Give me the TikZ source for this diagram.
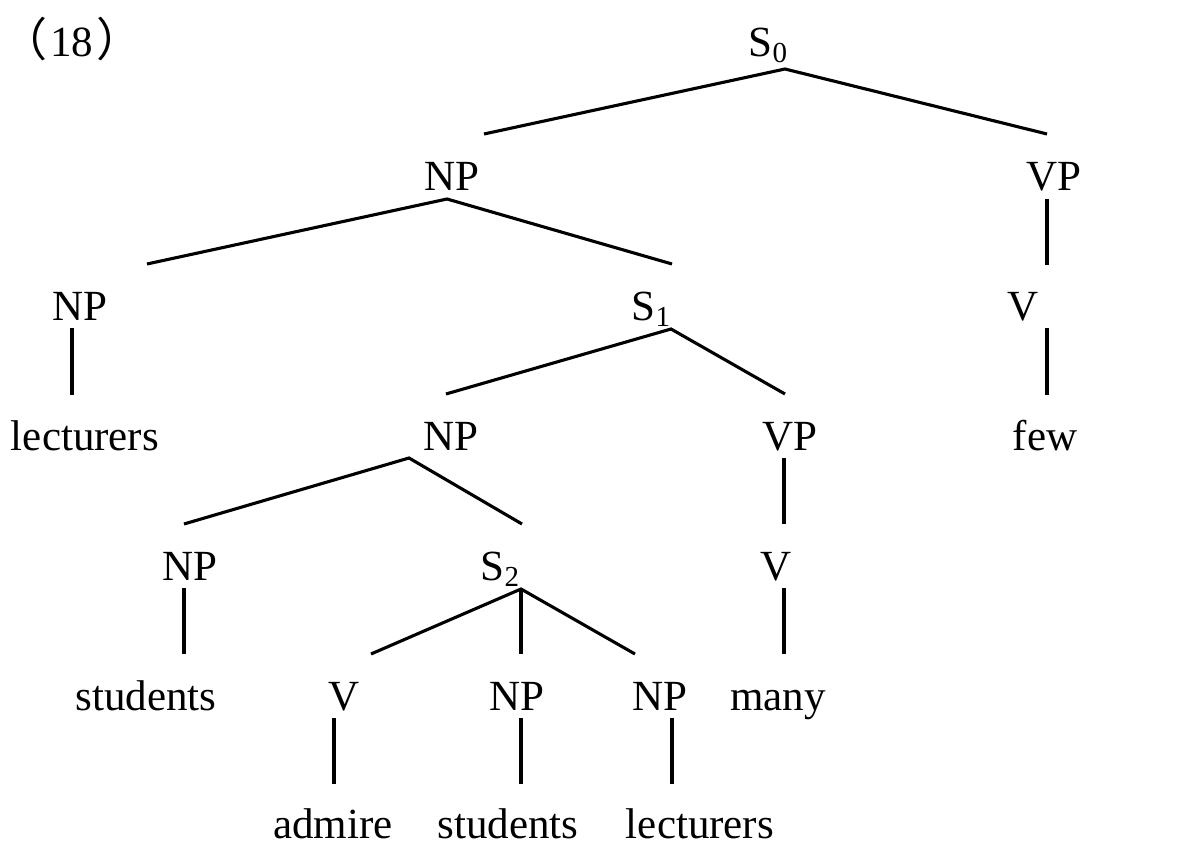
\documentclass[tikz,border=0pt]{standalone}
\usepackage{fontspec}
\setmainfont{Liberation Serif}
\newfontfamily\cjk{Noto Sans CJK SC}
\newcommand{\subidx}[1]{\raisebox{-6pt}{\fontsize{29}{29}\selectfont #1}}
\begin{document}
\begin{tikzpicture}[x=1pt,y=-1pt,
  lbl/.style={font=\fontsize{43}{50}\selectfont, anchor=base, inner sep=0pt},
  edge/.style={line width=3.1pt, line cap=butt, line join=miter}]
\useasboundingbox (0,0) rectangle (1197,861);
% labels
\node[lbl] (num) at (72,57) {{\cjk\fontsize{46}{50}\selectfont （}\hspace{3pt}18\hspace{3pt}{\cjk\fontsize{46}{50}\selectfont ）}};
\node[lbl] (s0) at (768,57) {S\subidx{0}};
\node[lbl] (np1) at (452,191) {NP};
\node[lbl] (vp1) at (1054,191) {VP};
\node[lbl] (np2) at (80,320) {NP};
\node[lbl] (s1) at (651,320) {S\subidx{1}};
\node[lbl] (v2) at (1023,320) {V};
\node[lbl] (lect1) at (85,450) {lecturers};
\node[lbl] (np3) at (451,450) {NP};
\node[lbl] (vp3) at (790,450) {VP};
\node[lbl] (few) at (1045,450) {few};
\node[lbl] (np4) at (190,580) {NP};
\node[lbl] (s2) at (500,580) {S\subidx{2}};
\node[lbl] (v4) at (776,580) {V};
\node[lbl] (stud1) at (146,710) {students};
\node[lbl] (v5) at (344,710) {V};
\node[lbl] (np5a) at (517,710) {NP};
\node[lbl] (np5b) at (660,710) {NP};
\node[lbl] (many) at (778,710) {many};
\node[lbl] (admire) at (333,838) {admire};
\node[lbl] (stud2) at (508,838) {students};
\node[lbl] (lect2) at (700,838) {lecturers};
% connector ends
\coordinate (s0b) at (785,69);
\coordinate (np1t) at (484,134);
\coordinate (vp1t) at (1047,134);
\coordinate (np1b) at (447,199);
\coordinate (np2t) at (147,264);
\coordinate (s1t) at (672,264);
\coordinate (vp1b) at (1047,199);
\coordinate (v2t) at (1047,265);
\coordinate (np2b) at (72,328);
\coordinate (lect1t) at (72,395);
\coordinate (s1b) at (671,329);
\coordinate (np3t) at (446,394);
\coordinate (vp3t) at (785,394);
\coordinate (v2b) at (1047,328);
\coordinate (fewt) at (1047,395);
\coordinate (np3b) at (409,458);
\coordinate (np4t) at (184,524);
\coordinate (s2t) at (522,524);
\coordinate (vp3b) at (784,458);
\coordinate (v4t) at (784,524);
\coordinate (np4b) at (184,588);
\coordinate (stud1t) at (184,654);
\coordinate (s2b) at (521,589);
\coordinate (v5t) at (371,654);
\coordinate (np5at) at (521,654);
\coordinate (np5bt) at (635,654);
\coordinate (v4b) at (784,588);
\coordinate (manyt) at (784,654);
\coordinate (v5b) at (334,718);
\coordinate (admiret) at (334,784);
\coordinate (np5ab) at (521,718);
\coordinate (stud2t) at (521,784);
\coordinate (np5bb) at (672,718);
\coordinate (lect2t) at (672,784);
% connectors
\draw[edge] (np1t) -- (s0b) -- (vp1t);
\draw[edge] (np2t) -- (np1b) -- (s1t);
\draw[edge] (vp1b) -- (v2t);
\draw[edge] (np2b) -- (lect1t);
\draw[edge] (np3t) -- (s1b) -- (vp3t);
\draw[edge] (v2b) -- (fewt);
\draw[edge] (np4t) -- (np3b) -- (s2t);
\draw[edge] (vp3b) -- (v4t);
\draw[edge] (np4b) -- (stud1t);
\draw[edge] (v5t) -- (s2b) -- (np5bt);
\draw[edge] (s2b) -- (np5at);
\draw[edge] (v4b) -- (manyt);
\draw[edge] (v5b) -- (admiret);
\draw[edge] (np5ab) -- (stud2t);
\draw[edge] (np5bb) -- (lect2t);
\end{tikzpicture}
\end{document}
